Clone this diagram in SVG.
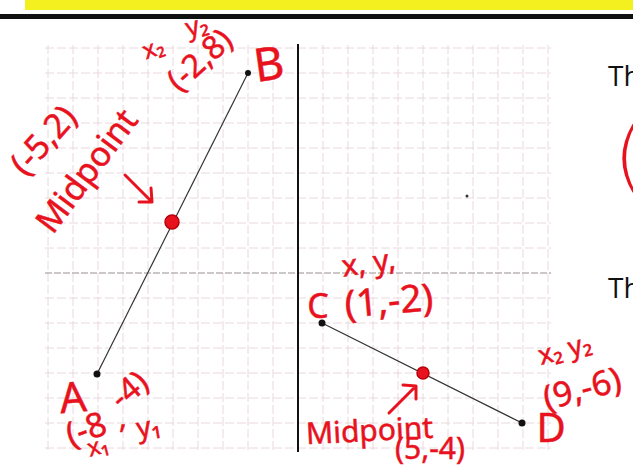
<svg xmlns="http://www.w3.org/2000/svg" width="633" height="468" viewBox="0 0 633 468">
<style>
.grid{stroke:#e8d8dd;stroke-width:1;stroke-dasharray:9 3;fill:none}
.axis{stroke:#111;stroke-width:2;fill:none}
.xaxis{stroke:#9a9090;stroke-width:1.2;stroke-dasharray:7 2;fill:none}
.seg{stroke:#333;stroke-width:1.2;fill:none}
.pt{fill:#111}
.red{fill:#e8121e;stroke:#e8121e;stroke-width:0.5;font-family:"Noto Sans","DejaVu Sans",sans-serif;text-anchor:middle}
.redline{stroke:#e8121e;stroke-width:3;fill:none;stroke-linecap:round;stroke-linejoin:round}
.mid{fill:#e8121e;stroke:#b8000a;stroke-width:1.5}
.blk{fill:#111;font-family:"Open Sans","Liberation Sans",sans-serif}
.thin{fill:#e8121e;font-family:"DejaVu Sans",sans-serif;font-weight:200}
</style>
<rect width="633" height="468" fill="#ffffff"/>
<rect x="25" y="0" width="608" height="10" fill="#f4ef1e"/>
<rect x="0" y="14" width="633" height="5" fill="#111"/>
<g id="grid">
<path class="grid" d="M48 45V451M73 45V451M98 45V451M123 45V451M148 45V451M173 45V451M198 45V451M223 45V451M248 45V451M273 45V451M323 45V451M348 45V451M373 45V451M398 45V451M423 45V451M448 45V451M473 45V451M498 45V451M523 45V451M548 45V451"/>
<path class="grid" d="M45 48H551M45 73H551M45 98H551M45 123H551M45 148H551M45 173H551M45 198H551M45 223H551M45 248H551M45 298H551M45 323H551M45 348H551M45 373H551M45 398H551M45 423H551M45 448H551"/>
<path class="xaxis" d="M45 273H551"/>
<path class="axis" d="M298 44V452"/>
<circle cx="467" cy="196" r="1.5" fill="#333"/>
</g>
<g id="connectors">
<line class="seg" x1="97" y1="374" x2="248" y2="73"/>
<line class="seg" x1="322" y1="323" x2="522" y2="423"/>
<path class="redline" d="M125 175L152 202M139 202L152 202L151 188"/>
<path class="redline" d="M389 413L416 386M403 385L416 386L416 399"/>
</g>
<g id="pointB"><circle class="pt" cx="248" cy="73" r="3"/>
<text class="red" font-size="46" transform="translate(271,80) rotate(-8)">B</text>
<text class="red" font-size="24" transform="translate(156,56) rotate(-20)">x₂</text>
<text class="red" font-size="26" transform="translate(199,34) rotate(-15)">y₂</text>
<text class="red" font-size="32" transform="translate(207,68) rotate(-42)">(-2,8)</text>
</g>
<g id="midpointAB"><circle class="mid" cx="172" cy="222" r="7"/>
<text class="red" font-size="34" transform="translate(52,148) rotate(-48)">(-5,2)</text>
<text class="red" font-size="34" transform="translate(96,178) rotate(-53)">Midpoint</text>
</g>
<g id="pointA"><circle class="pt" cx="97" cy="374" r="3.5"/>
<text class="red" font-size="42" transform="translate(74,412) rotate(-5)">A</text>
<text class="red" font-size="32" transform="translate(136,398) rotate(-40)">-4)</text>
<text class="red" font-size="34" transform="translate(90,440) rotate(-20)">(-8</text>
<text class="red" font-size="30" x="123" y="428">,</text>
<text class="red" font-size="28" transform="translate(150,436) rotate(-10)">y₁</text>
<text class="red" font-size="24" transform="translate(100,454) rotate(-15)">x₁</text>
</g>
<g id="pointC"><circle class="pt" cx="322" cy="323" r="3.5"/>
<text class="red" font-size="30" transform="translate(370,273) rotate(-8)">x, y,</text>
<text class="red" font-size="34" x="318" y="318">C</text>
<text class="red" font-size="38" transform="translate(390,314) rotate(-5)">(1,-2)</text>
</g>
<g id="pointD"><circle class="pt" cx="522" cy="423" r="3.5"/>
<text class="red" font-size="27" transform="translate(567,358) rotate(-15)">x₂ y₂</text>
<text class="red" font-size="34" transform="translate(585,400) rotate(-15)">(9,-6)</text>
<text class="red" font-size="40" x="551" y="442">D</text>
</g>
<g id="midpointCD"><circle class="mid" cx="423" cy="373" r="6"/>
<text class="red" font-size="30" transform="translate(370,441) rotate(-3)">Midpoint</text>
<text class="red" font-size="30" x="430" y="459">(5,-4)</text>
</g>
<g id="side">
<text class="blk" font-size="28" x="608" y="86">Th</text>
<text class="thin" font-size="76" x="614" y="182">(</text>
<text class="blk" font-size="28" x="608" y="298">Th</text>
</g>
</svg>
